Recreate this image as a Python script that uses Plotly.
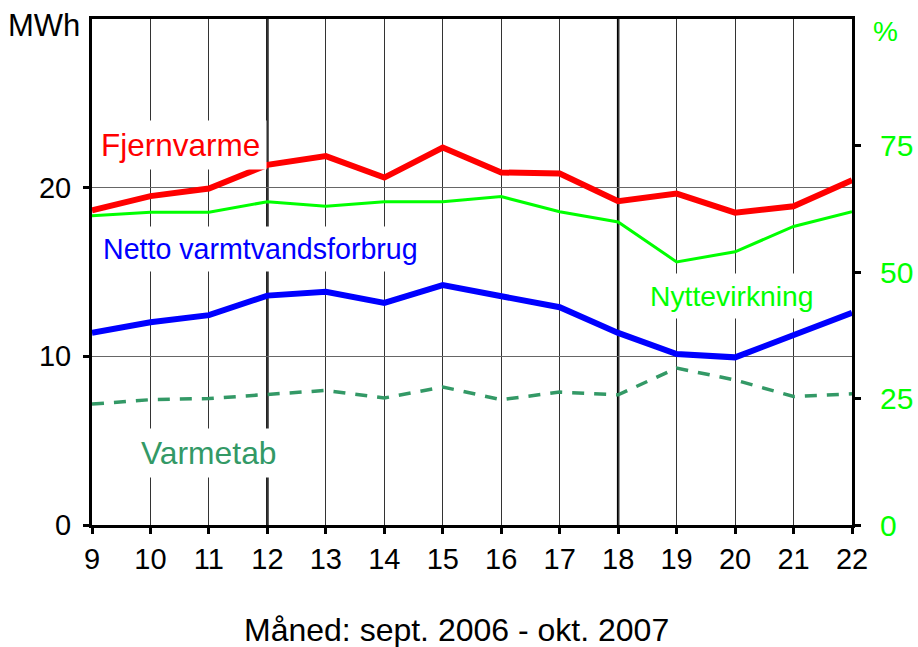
import plotly.graph_objects as go

# Months numbered 9 (sept. 2006) .. 22 (okt. 2007)
months = list(range(9, 23))

# MWh per month
fjernvarme = [18.66, 19.5, 19.95, 21.35, 21.87, 20.6, 22.38, 20.9, 20.84, 19.2, 19.65, 18.52, 18.9, 20.44]
netto = [11.39, 12.02, 12.44, 13.6, 13.83, 13.17, 14.22, 13.57, 12.91, 11.39, 10.14, 9.94, 11.29, 12.58]
varmetab = [7.17, 7.43, 7.5, 7.72, 7.98, 7.53, 8.18, 7.43, 7.88, 7.72, 9.3, 8.6, 7.62, 7.78]

# Efficiency in percent (right axis)
nyttevirkning = [61.1, 61.8, 61.8, 63.9, 63.0, 63.9, 63.9, 64.9, 61.9, 59.9, 52.0, 54.0, 59.0, 61.9]

left_ticks = [0, 10, 20]
right_ticks = [0, 25, 50, 75]

FONT = "Liberation Sans, Arial, sans-serif"

W, H = 918, 647
L, R, T, B = 92, 66, 19, 122

fig = go.Figure()

fig.add_trace(go.Scatter(x=months, y=varmetab, mode="lines",
                         line=dict(color="#339966", width=3.5, dash="12px,10px")))
fig.add_trace(go.Scatter(x=months, y=nyttevirkning, mode="lines", yaxis="y2",
                         line=dict(color="#00FF00", width=3)))
fig.add_trace(go.Scatter(x=months, y=netto, mode="lines",
                         line=dict(color="#0000FF", width=6)))
fig.add_trace(go.Scatter(x=months, y=fjernvarme, mode="lines",
                         line=dict(color="#FF0000", width=6)))

# heavy vertical dividers at month 12 and 18
for xv in (12, 18):
    fig.add_shape(type="line", xref="x", yref="paper", x0=xv, x1=xv, y0=0, y1=1,
                  line=dict(color="black", width=2.5), layer="below")

# series labels placed in data coordinates (white box hides the grid behind)
labels = [
    ("Fjernvarme", 10.51, 22.52, "#FF0000", 31.5),
    ("Netto varmtvandsforbrug", 11.88, 16.34, "#0000FF", 28.6),
    ("Nyttevirkning", 19.94, 13.57, "#00FF00", 28.3),
    ("Varmetab", 11.0, 4.28, "#339966", 31.8),
]
for text, xv, yv, col, fs in labels:
    fig.add_annotation(x=xv, y=yv, xref="x", yref="y", text=text, showarrow=False,
                       xanchor="center", yanchor="middle",
                       font=dict(family=FONT, size=fs, color=col),
                       bgcolor="white", borderpad=6)


def px_to_paper(px, py):
    return (px - L) / (W - L - R), 1 - (py - T) / (H - T - B)


# unit captions above the two value axes
mx, my = px_to_paper(82, 25)
fig.add_annotation(x=mx, y=my, xref="paper", yref="paper", text="MWh", showarrow=False,
                   xanchor="right", yanchor="middle",
                   font=dict(family=FONT, size=31, color="black"))
px_, py_ = px_to_paper(885, 32)
fig.add_annotation(x=px_, y=py_, xref="paper", yref="paper", text="%", showarrow=False,
                   xanchor="center", yanchor="middle",
                   font=dict(family=FONT, size=28, color="#00FF00"))

# x-axis caption
tx, ty = px_to_paper(456, 630)
fig.add_annotation(x=tx, y=ty, xref="paper", yref="paper",
                   text="Måned: sept. 2006 - okt. 2007", showarrow=False,
                   xanchor="center", yanchor="middle",
                   font=dict(family=FONT, size=32, color="black"))

fig.update_layout(
    width=W, height=H,
    margin=dict(l=L, r=R, t=T, b=B, autoexpand=False),
    paper_bgcolor="white", plot_bgcolor="white",
    showlegend=False,
    font=dict(family=FONT, size=29, color="black"),
    xaxis=dict(range=[9, 22], tickmode="array", tickvals=months,
               showgrid=True, gridcolor="#333333", gridwidth=1,
               showline=True, linecolor="black", linewidth=3, mirror=True,
               ticks="outside", ticklen=6, tickwidth=2.5, tickcolor="black",
               zeroline=False, automargin=False,
               tickfont=dict(family=FONT, size=29)),
    yaxis=dict(range=[0, 30], tickmode="array", tickvals=left_ticks,
               showgrid=True, gridcolor="#666666", gridwidth=1,
               showline=True, linecolor="black", linewidth=3,
               ticks="outside", ticklen=6, tickwidth=2.5, tickcolor="black",
               zeroline=False, ticklabelstandoff=6, automargin=False,
               tickfont=dict(family=FONT, size=29)),
    yaxis2=dict(range=[0, 100], overlaying="y", side="right",
                tickmode="array", tickvals=right_ticks,
                showgrid=False, zeroline=False, automargin=False,
                showline=True, linecolor="black", linewidth=3,
                ticks="outside", ticklen=6, tickwidth=2.5, tickcolor="black",
                ticklabelstandoff=13,
                tickfont=dict(family=FONT, size=30, color="#00FF00")),
)

fig.write_html("out.html")
